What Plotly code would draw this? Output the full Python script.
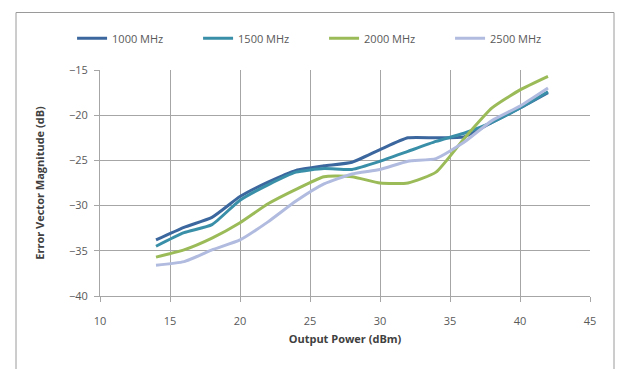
import plotly.graph_objects as go

power_dbm = [14, 16, 18, 20, 22, 24, 26, 28, 30, 32, 34, 36, 38, 40, 42]
evm_1000 = [-33.8, -32.4, -31.3, -29.0, -27.4, -26.1, -25.6, -25.2, -23.8, -22.5, -22.5, -22.4, -20.8, -19.2, -17.5]
evm_1500 = [-34.5, -33.0, -32.1, -29.4, -27.7, -26.3, -25.9, -26.0, -25.1, -24.0, -22.9, -22.0, -20.8, -19.2, -17.4]
evm_2000 = [-35.7, -34.9, -33.6, -31.9, -29.8, -28.2, -26.8, -26.8, -27.5, -27.5, -26.3, -22.6, -19.2, -17.2, -15.7]
evm_2500 = [-36.6, -36.2, -34.9, -33.8, -31.8, -29.5, -27.6, -26.5, -26.0, -25.1, -24.8, -23.0, -20.6, -19.0, -17.0]
series_names = ["1000 MHz", "1500 MHz", "2000 MHz", "2500 MHz"]
series_colors = ["#3b679e", "#3a8fa8", "#9bbb59", "#b0bbdf"]

fig = go.Figure()
for name, vals, col in zip(series_names, [evm_1000, evm_1500, evm_2000, evm_2500], series_colors):
    fig.add_trace(go.Scatter(x=power_dbm, y=vals, name=name, mode="lines",
                             line=dict(color=col, width=3, shape="spline", smoothing=0.5)))

font_family = "Open Sans, Liberation Sans, sans-serif"
fig.update_layout(
    width=619, height=369,
    margin=dict(l=100, r=29, t=70, b=73),
    paper_bgcolor="white", plot_bgcolor="white",
    font=dict(family=font_family, size=11, color="#595959"),
    showlegend=True,
    legend=dict(orientation="h", x=-0.057, xanchor="left", y=1.14, yanchor="middle",
                font=dict(size=11, color="#595959"), entrywidth=81, entrywidthmode="pixels",
                tracegroupgap=0, bgcolor="rgba(0,0,0,0)"),
    xaxis=dict(range=[10, 45], tickvals=[10, 15, 20, 25, 30, 35, 40, 45],
               showgrid=True, gridcolor="#a6a6a6", gridwidth=1,
               showline=True, linecolor="#a6a6a6", linewidth=1,
               ticks="outside", ticklen=5, tickcolor="#a6a6a6", ticklabelstandoff=10,
               zeroline=False, tickfont=dict(size=11, color="#595959"),
               title=dict(text="<b>Output Power (dBm)</b>", font=dict(size=11, color="#404040"), standoff=8)),
    yaxis=dict(range=[-40, -15], tickvals=[-40, -35, -30, -25, -20, -15],
               showgrid=True, gridcolor="#a6a6a6", gridwidth=1,
               showline=True, linecolor="#a6a6a6", linewidth=1,
               ticks="outside", ticklen=5, tickcolor="#a6a6a6", ticklabelstandoff=4,
               zeroline=False, tickfont=dict(size=11, color="#595959"),
               title=dict(text="<b>Error Vector Magnitude (dB)</b>", font=dict(size=11, color="#404040"), standoff=22)),
    shapes=[dict(type="rect", xref="paper", yref="paper",
                 x0=-0.1714, x1=1.049, y0=-0.34, y1=1.2544,
                 line=dict(color="#9a9a9a", width=1), fillcolor="rgba(0,0,0,0)", layer="below")],
)

fig.write_html("out.html")
